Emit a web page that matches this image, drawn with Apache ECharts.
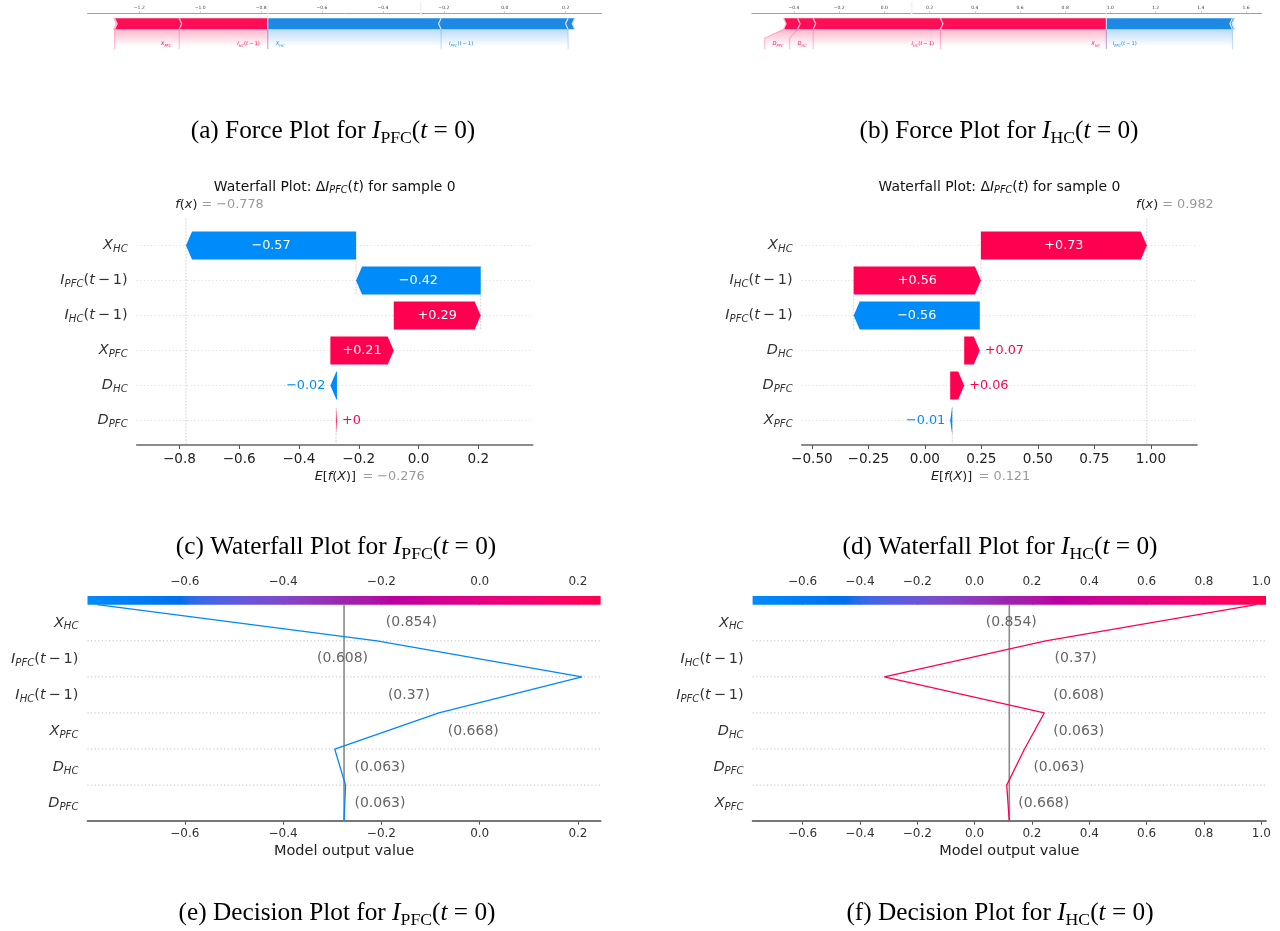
<!DOCTYPE html>
<html>
<head>
<meta charset="utf-8">
<title>SHAP explanations for I_PFC and I_HC</title>
<script src="https://cdn.jsdelivr.net/npm/echarts@6.0.0/dist/echarts.min.js"></script>
<style>
  html, body { margin: 0; padding: 0; background: #ffffff; }
  #chart { width: 1280px; height: 931px; }
</style>
</head>
<body>
<div id="chart"></div>
<script>
// ---------------------------------------------------------------------------
// Data
// ---------------------------------------------------------------------------
// Output I_PFC(t=0): features ordered by |SHAP value|, top row first
const pfcFeatures = ['X_HC', 'I_PFC(t-1)', 'I_HC(t-1)', 'X_PFC', 'D_HC', 'D_PFC'];
const pfcShap = [-0.569, -0.417, 0.291, 0.212, -0.022, 0.003];
const pfcFeatureValues = [0.854, 0.608, 0.37, 0.668, 0.063, 0.063];
const pfcBase = -0.276;

// Output I_HC(t=0)
const hcFeatures = ['X_HC', 'I_HC(t-1)', 'I_PFC(t-1)', 'D_HC', 'D_PFC', 'X_PFC'];
const hcShap = [0.734, 0.563, -0.558, 0.069, 0.062, -0.009];
const hcFeatureValues = [0.854, 0.37, 0.608, 0.063, 0.063, 0.668];
const hcBase = 0.121;

// Tick values
const forcePfcTicks = [-1.2, -1.0, -0.8, -0.6, -0.4, -0.2, 0.0, 0.2];
const forceHcTicks = [-0.4, -0.2, 0.0, 0.2, 0.4, 0.6, 0.8, 1.0, 1.2, 1.4, 1.6];
const waterfallPfcTicks = [-0.8, -0.6, -0.4, -0.2, 0.0, 0.2];
const waterfallHcTicks = [-0.5, -0.25, 0.0, 0.25, 0.5, 0.75, 1.0];
const decisionPfcTicks = [-0.6, -0.4, -0.2, 0.0, 0.2];
const decisionHcTicks = [-0.6, -0.4, -0.2, 0.0, 0.2, 0.4, 0.6, 0.8, 1.0];

// Axis extents of the force and waterfall panels
const forceRangePfc = [-1.37, 0.318];
const forceRangeHc = [-0.586, 1.669];
const waterfallRangePfc = [-0.943, 0.382];
const waterfallRangeHc = [-0.545, 1.204];

// ---------------------------------------------------------------------------
// Helpers
// ---------------------------------------------------------------------------
const SANS = 'DejaVu Sans';
const SERIF = 'Liberation Serif';

// SHAP red_blue colour map, interpolated in Lch space
function lch2rgb(l, c, h) {
  const a = c * Math.cos(h), b = c * Math.sin(h);
  const fy = (l + 16) / 116, fx = fy + a / 500, fz = fy - b / 200;
  const finv = t => (t > 6 / 29 ? t * t * t : 3 * (6 / 29) * (6 / 29) * (t - 4 / 29));
  const X = 0.95047 * finv(fx), Y = finv(fy), Z = 1.08883 * finv(fz);
  const lin = [
    3.24048134 * X - 1.53715152 * Y - 0.49853633 * Z,
    -0.96925495 * X + 1.87599 * Y + 0.04155593 * Z,
    0.05564664 * X - 0.20404134 * Y + 1.05731107 * Z
  ];
  return lin.map(v => {
    v = v > 0.0031308 ? 1.055 * Math.pow(v, 1 / 2.4) - 0.055 : 12.92 * v;
    return Math.round(255 * Math.min(1, Math.max(0, v)));
  });
}
const rgbStr = c => 'rgb(' + c.join(',') + ')';
const BLUE_LCH = [54, 70, 4.6588], RED_LCH = [54, 90, 0.35470565 + 2 * Math.PI], L_MID = 40;
const RED = rgbStr(lch2rgb(...RED_LCH));
const BLUE = rgbStr(lch2rgb(...BLUE_LCH));
const cmapStops = [];
for (let i = 0; i < 100; i++) {
  const pos = i / 99;
  const l = i < 50 ? BLUE_LCH[0] + (L_MID - BLUE_LCH[0]) * (i / 49) : L_MID + (RED_LCH[0] - L_MID) * ((i - 50) / 49);
  const c = BLUE_LCH[1] + (RED_LCH[1] - BLUE_LCH[1]) * pos;
  const h = BLUE_LCH[2] + (RED_LCH[2] - BLUE_LCH[2]) * pos;
  cmapStops.push({ offset: pos, color: rgbStr(lch2rgb(l, c, h)) });
}
function cmapAt(t) {
  const i = Math.max(0, Math.min(99, Math.round(t * 99)));
  return cmapStops[i].color;
}

const FORCE_RED = '#FF0D57', FORCE_BLUE = '#1E88E5';
const FORCE_RED_LIGHT = '#FFC3D5', FORCE_BLUE_LIGHT = '#D1E6FA';

const measureCtx = document.createElement('canvas').getContext('2d');
function textWidth(str, size, italic, family) {
  measureCtx.font = (italic ? 'italic ' : '') + size + 'px "' + (family || SANS) + '"';
  return measureCtx.measureText(str).width;
}

// Feature names such as I_PFC(t-1) are typeset as math: italic letter, italic subscript
function mathParts(name) {
  const m = /^([A-Za-z])_([A-Za-z]+)(\(t-1\))?$/.exec(name);
  const parts = [['it', m[1]], ['sub', m[2]]];
  if (m[3]) parts.push(['n', '('], ['it', 't'], ['n', '\u2009\u2212\u20091)']);
  return parts;
}
const richString = parts => parts.map(([k, t]) => '{' + k + '|' + t + '}').join('');
const partsWidth = (parts, F) =>
  parts.reduce((w, [k, t]) => w + textWidth(t, k === 'sub' ? F * 0.7 : F, k !== 'n'), 0);
function mathRich(F, color) {
  const L = +(F * 1.4).toFixed(1), h = +(F * 0.84).toFixed(1);
  const base = { fontFamily: SANS, fontSize: F, color: color, fill: color, lineHeight: L };
  return {
    n: base,
    it: Object.assign({}, base, { fontStyle: 'italic' }),
    sub: { fontFamily: SANS, fontStyle: 'italic', fontSize: +(F * 0.7).toFixed(2), color: color, fill: color,
           lineHeight: h, height: h, verticalAlign: 'bottom' }
  };
}
const mathLabel = name => richString(mathParts(name));

function fmtTick(d) { return v => (v < -1e-9 ? '\u2212' : '') + Math.abs(v).toFixed(d); }
function fmtValue(s) {
  s = s.replace(/\.?0+$/, '');
  return s[0] === '-' ? '\u2212' + s.slice(1) : s;
}
const fmtSigned = v => fmtValue((v >= 0 ? '+' : '-') + Math.abs(v).toFixed(2));
const fmt3 = v => fmtValue(v.toFixed(3));
const fmtFeature = v => '(' + v.toFixed(3).replace(/0+$/, '').replace(/\.$/, '') + ')';
const sum = a => a.reduce((s, v) => s + v, 0);

// ---------------------------------------------------------------------------
// Force plot
// ---------------------------------------------------------------------------
function forceModel(names, shap, base) {
  const fx = base + sum(shap);
  const idx = names.map((n, i) => i);
  const posIdx = idx.filter(i => shap[i] >= 0).sort((a, b) => shap[b] - shap[a]);
  const negIdx = idx.filter(i => shap[i] < 0).sort((a, b) => shap[a] - shap[b]);
  let v = fx;
  const pos = posIdx.map(i => { v -= shap[i]; return { name: names[i], end: v }; });
  v = fx;
  const neg = negIdx.map(i => { v -= shap[i]; return { name: names[i], end: v }; });
  const totalPos = pos.length ? pos[0].end - pos[pos.length - 1].end : 0;
  const totalNeg = neg.length ? neg[neg.length - 1].end - neg[0].end : 0;
  return { fx, base, pos, neg, totalPos, totalNeg, totalEffect: Math.abs(totalNeg) + totalPos };
}

function forceRenderer(model, xr) {
  return function (params, api) {
    const P = (x, y) => api.coord([x, y]);
    const kx = v => P(v, 0)[0];
    const ky = v => P(0, v)[1];
    const pxPerUnit = kx(1) - kx(0);
    const cs = params.coordSys;
    const wBar = 0.1, sep = (xr[1] - xr[0]) / 200;
    const shading = [], bars = [], seps = [], lines = [], texts = [];
    const seg = (pts, color) => ({ type: 'polyline', shape: { points: pts.map(p => P(p[0], p[1])) },
      style: { stroke: color, lineWidth: 0.6, opacity: 0.5, fill: null } });

    // coloured segments with chevron separators
    [['positive', model.pos], ['negative', model.neg]].forEach(([type, feats]) => {
      let pre = model.fx;
      feats.forEach((f, i) => {
        let lb, rb, ind, sp, col, lcol;
        if (type === 'positive') { lb = f.end; rb = pre; pre = lb; ind = sep; sp = lb; col = FORCE_RED; lcol = FORCE_RED_LIGHT; }
        else { lb = pre; rb = f.end; pre = rb; ind = -sep; sp = rb; col = FORCE_BLUE; lcol = FORCE_BLUE_LIGHT; }
        let pts;
        if (i === 0) {
          pts = type === 'positive'
            ? [[lb, 0], [rb, 0], [rb, wBar], [lb, wBar], [lb + ind, wBar / 2]]
            : [[rb, 0], [lb, 0], [lb, wBar], [rb, wBar], [rb + ind, wBar / 2]];
        } else {
          pts = [[lb, 0], [rb, 0], [rb + ind * 0.9, wBar / 2], [rb, wBar], [lb, wBar], [lb + ind * 0.9, wBar / 2]];
        }
        bars.push({ type: 'polygon', shape: { points: pts.map(p => P(p[0], p[1])) }, style: { fill: col } });
        seps.push({ type: 'polyline', shape: { points: [[sp, 0], [sp + ind, wBar / 2], [sp, wBar]].map(p => P(p[0], p[1])) },
          style: { stroke: lcol, lineWidth: 1.2, fill: null } });
      });
    });

    // feature labels, leader lines and shading
    const offsetText = (Math.abs(model.totalNeg) + Math.abs(model.totalPos)) * 0.04;
    const F = 5.2, pad = 1.5, MIN_PERC = 0.05;
    [['positive', model.pos], ['negative', model.neg]].forEach(([type, feats]) => {
      const col = type === 'positive' ? FORCE_RED : FORCE_BLUE;
      const shade = type === 'positive' ? '255,13,87' : '30,136,229';
      const sign = type === 'positive' ? 1 : -1;
      let startText = model.fx, preVal = model.fx, boxEnd = model.fx;
      lines.push(seg([[model.fx, 0], [model.fx, -0.18]], col));
      for (const f of feats) {
        if (Math.abs(f.end - preVal) / Math.abs(model.totalEffect) < MIN_PERC) break;
        const val = f.end;
        const parts = mathParts(f.name);
        const txPx = kx(startText - sign * offsetText);
        const w = partsWidth(parts, F);
        const edgePx = sign > 0 ? txPx - w - pad : txPx + w + pad;
        if (edgePx > cs.x + cs.width) break;
        texts.push({ type: 'text', x: txPx, y: ky(-0.15) - 0.32 * F,
          style: { text: richString(parts), rich: mathRich(F, col), align: sign > 0 ? 'right' : 'left', verticalAlign: 'middle' } });
        const edge = (edgePx - kx(0)) / pxPerUnit;
        if (sign * edge > sign * val) {
          lines.push(seg([[val, 0], [val, -0.18]], col));
          startText = val; boxEnd = val;
        } else {
          boxEnd = edge - sign * offsetText;
          lines.push(seg([[val, 0], [boxEnd, -0.08], [boxEnd, -0.18]], col));
          startText = boxEnd;
        }
        preVal = val;
      }
      shading.push({ type: 'polygon',
        shape: { points: [[model.fx, 0], [preVal, 0], [boxEnd, -0.08], [boxEnd, -0.2], [model.fx, -0.2]].map(p => P(p[0], p[1])) },
        style: { fill: { type: 'linear', x: 0, y: 0, x2: 0, y2: 1, colorStops: [
          { offset: 0, color: 'rgba(' + shade + ',0.3)' },
          { offset: 0.775, color: 'rgba(' + shade + ',0)' },
          { offset: 1, color: 'rgba(' + shade + ',0)' }] } } });
    });

    // faint markers of the base value and the output value
    const guides = [
      { type: 'polyline', shape: { points: [P(model.base, 0.13), P(model.base, 0.25)] }, style: { stroke: '#F2F2F2', lineWidth: 1.6, fill: null } },
      { type: 'polyline', shape: { points: [P(model.fx, 0), P(model.fx, 0.24)] }, style: { stroke: '#F2F2F2', lineWidth: 0.9, fill: null } }
    ];
    return { type: 'group', children: [].concat(shading, bars, seps, lines, guides, texts) };
  };
}

// ---------------------------------------------------------------------------
// Waterfall plot
// ---------------------------------------------------------------------------
function waterfallRows(shap, base) {
  const rows = [];
  let loc = base;
  for (let i = shap.length - 1; i >= 0; i--) { rows[i] = [loc, loc + shap[i], i, shap[i]]; loc += shap[i]; }
  return rows;
}
const HEAD_PX = 6;
function waterfallBar(params, api) {
  const x0v = api.value(0), x1v = api.value(1), row = api.value(2), v = api.value(3);
  const [x0, cy] = api.coord([x0v, row]);
  const x1 = api.coord([x1v, row])[0];
  const hh = api.size([0, 1])[1] * 0.4;
  const dir = x1 >= x0 ? 1 : -1, dist = Math.abs(x1 - x0);
  const hl = Math.min(dist, HEAD_PX), xb = x0 + dir * (dist - hl);
  const color = v >= 0 ? RED : BLUE;
  const label = fmtSigned(v);
  const F = 12.8;
  let tx, align, fill;
  if (textWidth(label, F) < dist) { tx = (x0 + x1) / 2; align = 'center'; fill = '#ffffff'; }
  else { tx = x1 + dir * 5; align = dir > 0 ? 'left' : 'right'; fill = color; }
  return { type: 'group', children: [
    { type: 'polygon', shape: { points: [[x0, cy - hh], [xb, cy - hh], [x1, cy], [xb, cy + hh], [x0, cy + hh]] }, style: { fill: color } },
    { type: 'text', x: tx, y: cy, style: { text: label, fill: fill, fontSize: F, fontFamily: SANS, align: align, verticalAlign: 'middle' } }
  ] };
}
function waterfallDeco(rows, shap, base) {
  const fx = base + sum(shap), n = rows.length;
  return function (params, api) {
    const cs = params.coordSys;
    const top = cs.y - 9.7, bottom = cs.y + cs.height + 7;
    const band = api.size([0, 1])[1];
    const cy = i => api.coord([0, i])[1];
    const X = v => api.coord([v, 0])[0];
    const ch = [];
    for (let i = 0; i < n; i++) {
      ch.push({ type: 'line', shape: { x1: cs.x, y1: cy(i), x2: cs.x + cs.width, y2: cy(i) },
        style: { stroke: '#cccccc', lineWidth: 0.7, lineDash: [1, 2.6] } });
    }
    const dash = { stroke: '#bbbbbb', lineWidth: 0.6, lineDash: [2, 1.2] };
    for (let i = 0; i + 4 < n; i++) {
      const x = X(rows[i][0]);
      ch.push({ type: 'line', shape: { x1: x, y1: cy(i) - 0.4 * band, x2: x, y2: cy(i + 1) + 0.4 * band }, style: dash });
    }
    const bx = X(base), fxx = X(fx);
    ch.push({ type: 'line', shape: { x1: bx, y1: bottom, x2: bx, y2: bottom - (bottom - top) / n }, style: dash });
    ch.push({ type: 'line', shape: { x1: fxx, y1: top, x2: fxx, y2: bottom }, style: dash });
    const F = 12.8;
    ch.push({ type: 'text', x: fxx - 10.7, y: top - 13.3,
      style: { text: richString([['it', 'f'], ['n', '('], ['it', 'x'], ['n', ')']]), rich: mathRich(F, '#222'), align: 'left', verticalAlign: 'middle' } });
    ch.push({ type: 'text', x: fxx + 15.5, y: top - 13.3,
      style: { text: '= ' + fmt3(fx), fill: '#999999', fontSize: F, fontFamily: SANS, align: 'left', verticalAlign: 'middle' } });
    ch.push({ type: 'text', x: bx - 21.3, y: bottom + 31.7,
      style: { text: richString([['it', 'E'], ['n', '['], ['it', 'f'], ['n', '('], ['it', 'X'], ['n', ')]']]), rich: mathRich(F, '#222'), align: 'left', verticalAlign: 'middle' } });
    ch.push({ type: 'text', x: bx + 26.5, y: bottom + 31.7,
      style: { text: '= ' + fmt3(base), fill: '#999999', fontSize: F, fontFamily: SANS, align: 'left', verticalAlign: 'middle' } });
    return { type: 'group', children: ch };
  };
}

// ---------------------------------------------------------------------------
// Decision plot
// ---------------------------------------------------------------------------
function decisionModel(shap, base) {
  const n = shap.length, cum = [base];
  for (let i = n - 1; i >= 0; i--) cum.push(cum[cum.length - 1] + shap[i]);
  const xmin = Math.min(base, ...cum), xmax = Math.max(base, ...cum);
  const half = Math.max(base - xmin, xmax - base);
  let lim = [base - half, base + half];
  const pad = (lim[1] - lim[0]) * 0.02;
  lim = [lim[0] - pad, lim[1] + pad];
  const fx = cum[n];
  return { n, cum, lim, base, color: cmapAt((fx - lim[0]) / (lim[1] - lim[0])) };
}
function decisionDeco(model, values) {
  const n = model.n;
  return function (params, api) {
    const cs = params.coordSys;
    const P = (x, y) => api.coord([x, y]);
    const ch = [];
    for (let k = 1; k < n; k++) {
      const y = P(0, k)[1];
      ch.push({ type: 'line', shape: { x1: cs.x, y1: y, x2: cs.x + cs.width, y2: y },
        style: { stroke: '#999999', lineWidth: 0.7, lineDash: [1, 2.6] } });
    }
    const bx = P(model.base, 0)[0];
    ch.push({ type: 'line', shape: { x1: bx, y1: cs.y, x2: bx, y2: cs.y + cs.height }, style: { stroke: '#8a8a8a', lineWidth: 1.6 } });
    const F = 14, gap = textWidth('  ', F);
    for (let i = 0; i < n; i++) {
      const lo = model.cum[n - 1 - i], hi = model.cum[n - i];
      const s = fmtFeature(values[i]);
      const w = textWidth(s, F);
      const y = P(0, n - i - 0.5)[1];
      let x = P(Math.max(lo, hi), 0)[0] + gap, align = 'left';
      if (x + w > cs.x + cs.width) {
        x = P(Math.min(lo, hi), 0)[0] - gap; align = 'right';
        if (x - w < cs.x) { x = cs.x + cs.width / 2; align = 'center'; }
      }
      ch.push({ type: 'text', x: x, y: y, style: { text: s, fill: '#666666', fontSize: F, fontFamily: SANS, align: align, verticalAlign: 'middle' } });
    }
    return { type: 'group', children: ch };
  };
}
function colorbar(params) {
  const cs = params.coordSys;
  return { type: 'rect', shape: { x: cs.x, y: cs.y, width: cs.width, height: cs.height },
    style: { fill: { type: 'linear', x: 0, y: 0, x2: 1, y2: 0, colorStops: cmapStops } } };
}

// ---------------------------------------------------------------------------
// Models
// ---------------------------------------------------------------------------
const forcePfc = forceModel(pfcFeatures, pfcShap, pfcBase);
const forceHc = forceModel(hcFeatures, hcShap, hcBase);
const rowsPfc = waterfallRows(pfcShap, pfcBase);
const rowsHc = waterfallRows(hcShap, hcBase);
const decPfc = decisionModel(pfcShap, pfcBase);
const decHc = decisionModel(hcShap, hcBase);

// ---------------------------------------------------------------------------
// Layout
// ---------------------------------------------------------------------------
const grids = [
  { left: 87.5, top: 12.8, width: 514.1, height: 71.5 },    // force, I_PFC
  { left: 751.9, top: 12.8, width: 509.7, height: 71.5 },   // force, I_HC
  { left: 136.7, top: 228, width: 396, height: 210 },       // waterfall, I_PFC
  { left: 801.7, top: 228, width: 395.3, height: 210 },     // waterfall, I_HC
  { left: 87.5, top: 604.7, width: 513.1, height: 216.5 },  // decision, I_PFC
  { left: 752.6, top: 604.7, width: 513.4, height: 216.5 }, // decision, I_HC
  { left: 87.5, top: 595.9, width: 513.1, height: 8.8 },    // colour bar, I_PFC
  { left: 752.6, top: 595.9, width: 513.4, height: 8.8 }    // colour bar, I_HC
].map(g => Object.assign({ containLabel: false, outerBoundsMode: 'none', show: false }, g));

function forceAxis(gi, range, ticks) {
  return { type: 'value', gridIndex: gi, position: 'top', min: range[0], max: range[1],
    axisLine: { show: true, onZero: false, lineStyle: { color: '#888888', width: 0.8 } },
    axisTick: { show: true, customValues: ticks, length: 1.5, lineStyle: { color: '#888888', width: 0.5 } },
    axisLabel: { customValues: ticks, fontSize: 4.5, color: '#444444', margin: 2.5, fontFamily: SANS, formatter: fmtTick(1) },
    splitLine: { show: false } };
}
function waterfallAxis(gi, range, ticks, d) {
  return { type: 'value', gridIndex: gi, position: 'bottom', offset: 7, min: range[0], max: range[1],
    axisLine: { show: true, onZero: false, lineStyle: { color: '#666666', width: 1.6 } },
    axisTick: { show: true, customValues: ticks, length: 4, lineStyle: { color: '#555555', width: 1 } },
    axisLabel: { customValues: ticks, fontSize: 13.6, color: '#222222', margin: 7.2, fontFamily: SANS, formatter: fmtTick(d) },
    splitLine: { show: false } };
}
function decisionAxis(gi, range, ticks) {
  return { type: 'value', gridIndex: gi, position: 'bottom', min: range[0], max: range[1],
    name: 'Model output value', nameLocation: 'middle', nameGap: 23,
    nameTextStyle: { fontSize: 14.5, color: '#222222', fontFamily: SANS },
    axisLine: { show: true, onZero: false, lineStyle: { color: '#777777', width: 1.8 } },
    axisTick: { show: true, customValues: ticks, length: 3.5, lineStyle: { color: '#555555', width: 1 } },
    axisLabel: { customValues: ticks, fontSize: 12, color: '#333333', margin: 6.5, fontFamily: SANS, formatter: fmtTick(1) },
    splitLine: { show: false } };
}
function colorbarAxis(gi, range, ticks) {
  return { type: 'value', gridIndex: gi, position: 'top', min: range[0], max: range[1],
    axisLine: { show: false },
    axisTick: { show: true, customValues: ticks, length: 3.5, lineStyle: { color: '#555555', width: 1 } },
    axisLabel: { customValues: ticks, fontSize: 12, color: '#333333', margin: 8, fontFamily: SANS, formatter: fmtTick(1) },
    splitLine: { show: false } };
}
function featureAxis(gi, names, color) {
  return { type: 'category', gridIndex: gi, data: names, inverse: true,
    axisLine: { show: false }, axisTick: { show: false }, splitLine: { show: false },
    axisLabel: { interval: 0, margin: 9, formatter: mathLabel, rich: mathRich(14.5, color) } };
}
const hiddenAxis = (gi, min, max) => ({ type: 'value', gridIndex: gi, min: min, max: max, show: false });

const captionRich = (() => {
  const F = 25.3, L = +(F * 1.4).toFixed(1), h = +(F * 0.84).toFixed(1);
  return {
    t: { fontFamily: SERIF, fontSize: F, fill: '#000', lineHeight: L },
    mi: { fontFamily: SERIF, fontStyle: 'italic', fontSize: F, fill: '#000', lineHeight: L },
    ms: { fontFamily: SERIF, fontSize: +(F * 0.7).toFixed(1), fill: '#000', lineHeight: h, height: h, verticalAlign: 'bottom' }
  };
})();
const caption = (letter, kind, sub) => '{t|(' + letter + ') ' + kind + ' Plot for }{mi|I}{ms|' + sub + '}{t|(}{mi|t}{t| = 0)}';
const captions = [
  { x: 333, y: 131, text: caption('a', 'Force', 'PFC') },
  { x: 999, y: 131, text: caption('b', 'Force', 'HC') },
  { x: 336, y: 547, text: caption('c', 'Waterfall', 'PFC') },
  { x: 1000, y: 547, text: caption('d', 'Waterfall', 'HC') },
  { x: 337, y: 913, text: caption('e', 'Decision', 'PFC') },
  { x: 1000, y: 913, text: caption('f', 'Decision', 'HC') }
];
const waterfallTitle = '{n|Waterfall Plot: \u0394}{it|I}{sub|PFC}{n|(}{it|t}{n|) for sample 0}';
const titleRich = mathRich(13.9, '#111111');

const chart = echarts.init(document.getElementById('chart'), null, { renderer: 'canvas', width: 1280, height: 931 });
chart.setOption({
  backgroundColor: '#ffffff',
  animation: false,
  textStyle: { fontFamily: SANS },
  grid: grids,
  xAxis: [
    forceAxis(0, forceRangePfc, forcePfcTicks),
    forceAxis(1, forceRangeHc, forceHcTicks),
    waterfallAxis(2, waterfallRangePfc, waterfallPfcTicks, 1),
    waterfallAxis(3, waterfallRangeHc, waterfallHcTicks, 2),
    decisionAxis(4, decPfc.lim, decisionPfcTicks),
    decisionAxis(5, decHc.lim, decisionHcTicks),
    colorbarAxis(6, decPfc.lim, decisionPfcTicks),
    colorbarAxis(7, decHc.lim, decisionHcTicks)
  ],
  yAxis: [
    hiddenAxis(0, -0.5, 0.15),
    hiddenAxis(1, -0.5, 0.15),
    featureAxis(2, pfcFeatures, '#333333'),
    featureAxis(3, hcFeatures, '#333333'),
    featureAxis(4, pfcFeatures, '#333333'),
    featureAxis(5, hcFeatures, '#333333'),
    hiddenAxis(4, 0, pfcShap.length),
    hiddenAxis(5, 0, hcShap.length),
    hiddenAxis(6, 0, 1),
    hiddenAxis(7, 0, 1)
  ],
  series: [
    { type: 'custom', xAxisIndex: 0, yAxisIndex: 0, data: [[0, 0]], clip: false, silent: true, renderItem: forceRenderer(forcePfc, forceRangePfc) },
    { type: 'custom', xAxisIndex: 1, yAxisIndex: 1, data: [[0, 0]], clip: false, silent: true, renderItem: forceRenderer(forceHc, forceRangeHc) },

    { type: 'custom', xAxisIndex: 2, yAxisIndex: 2, data: [[0, 0]], clip: false, silent: true, z: 1, renderItem: waterfallDeco(rowsPfc, pfcShap, pfcBase) },
    { type: 'custom', xAxisIndex: 2, yAxisIndex: 2, data: rowsPfc, encode: { x: [0, 1], y: 2 }, clip: false, silent: true, z: 2, renderItem: waterfallBar },
    { type: 'custom', xAxisIndex: 3, yAxisIndex: 3, data: [[0, 0]], clip: false, silent: true, z: 1, renderItem: waterfallDeco(rowsHc, hcShap, hcBase) },
    { type: 'custom', xAxisIndex: 3, yAxisIndex: 3, data: rowsHc, encode: { x: [0, 1], y: 2 }, clip: false, silent: true, z: 2, renderItem: waterfallBar },

    { type: 'custom', xAxisIndex: 4, yAxisIndex: 6, data: [[0, 0]], clip: false, silent: true, z: 1, renderItem: decisionDeco(decPfc, pfcFeatureValues) },
    { type: 'line', xAxisIndex: 4, yAxisIndex: 6, data: decPfc.cum.map((v, k) => [v, k]), symbol: 'none', silent: true, z: 2,
      lineStyle: { color: decPfc.color, width: 1.3 } },
    { type: 'custom', xAxisIndex: 5, yAxisIndex: 7, data: [[0, 0]], clip: false, silent: true, z: 1, renderItem: decisionDeco(decHc, hcFeatureValues) },
    { type: 'line', xAxisIndex: 5, yAxisIndex: 7, data: decHc.cum.map((v, k) => [v, k]), symbol: 'none', silent: true, z: 2,
      lineStyle: { color: decHc.color, width: 1.3 } },

    { type: 'custom', xAxisIndex: 6, yAxisIndex: 8, data: [[0, 0.5]], silent: true, renderItem: colorbar },
    { type: 'custom', xAxisIndex: 7, yAxisIndex: 9, data: [[0, 0.5]], silent: true, renderItem: colorbar }
  ],
  graphic: [
    { type: 'text', x: 334.7, y: 187, silent: true, style: { text: waterfallTitle, rich: titleRich, align: 'center', verticalAlign: 'middle' } },
    { type: 'text', x: 999.4, y: 187, silent: true, style: { text: waterfallTitle, rich: titleRich, align: 'center', verticalAlign: 'middle' } }
  ].concat(captions.map(c => ({ type: 'text', x: c.x, y: c.y, silent: true,
    style: { text: c.text, rich: captionRich, align: 'center', verticalAlign: 'middle' } })))
});
</script>
</body>
</html>
